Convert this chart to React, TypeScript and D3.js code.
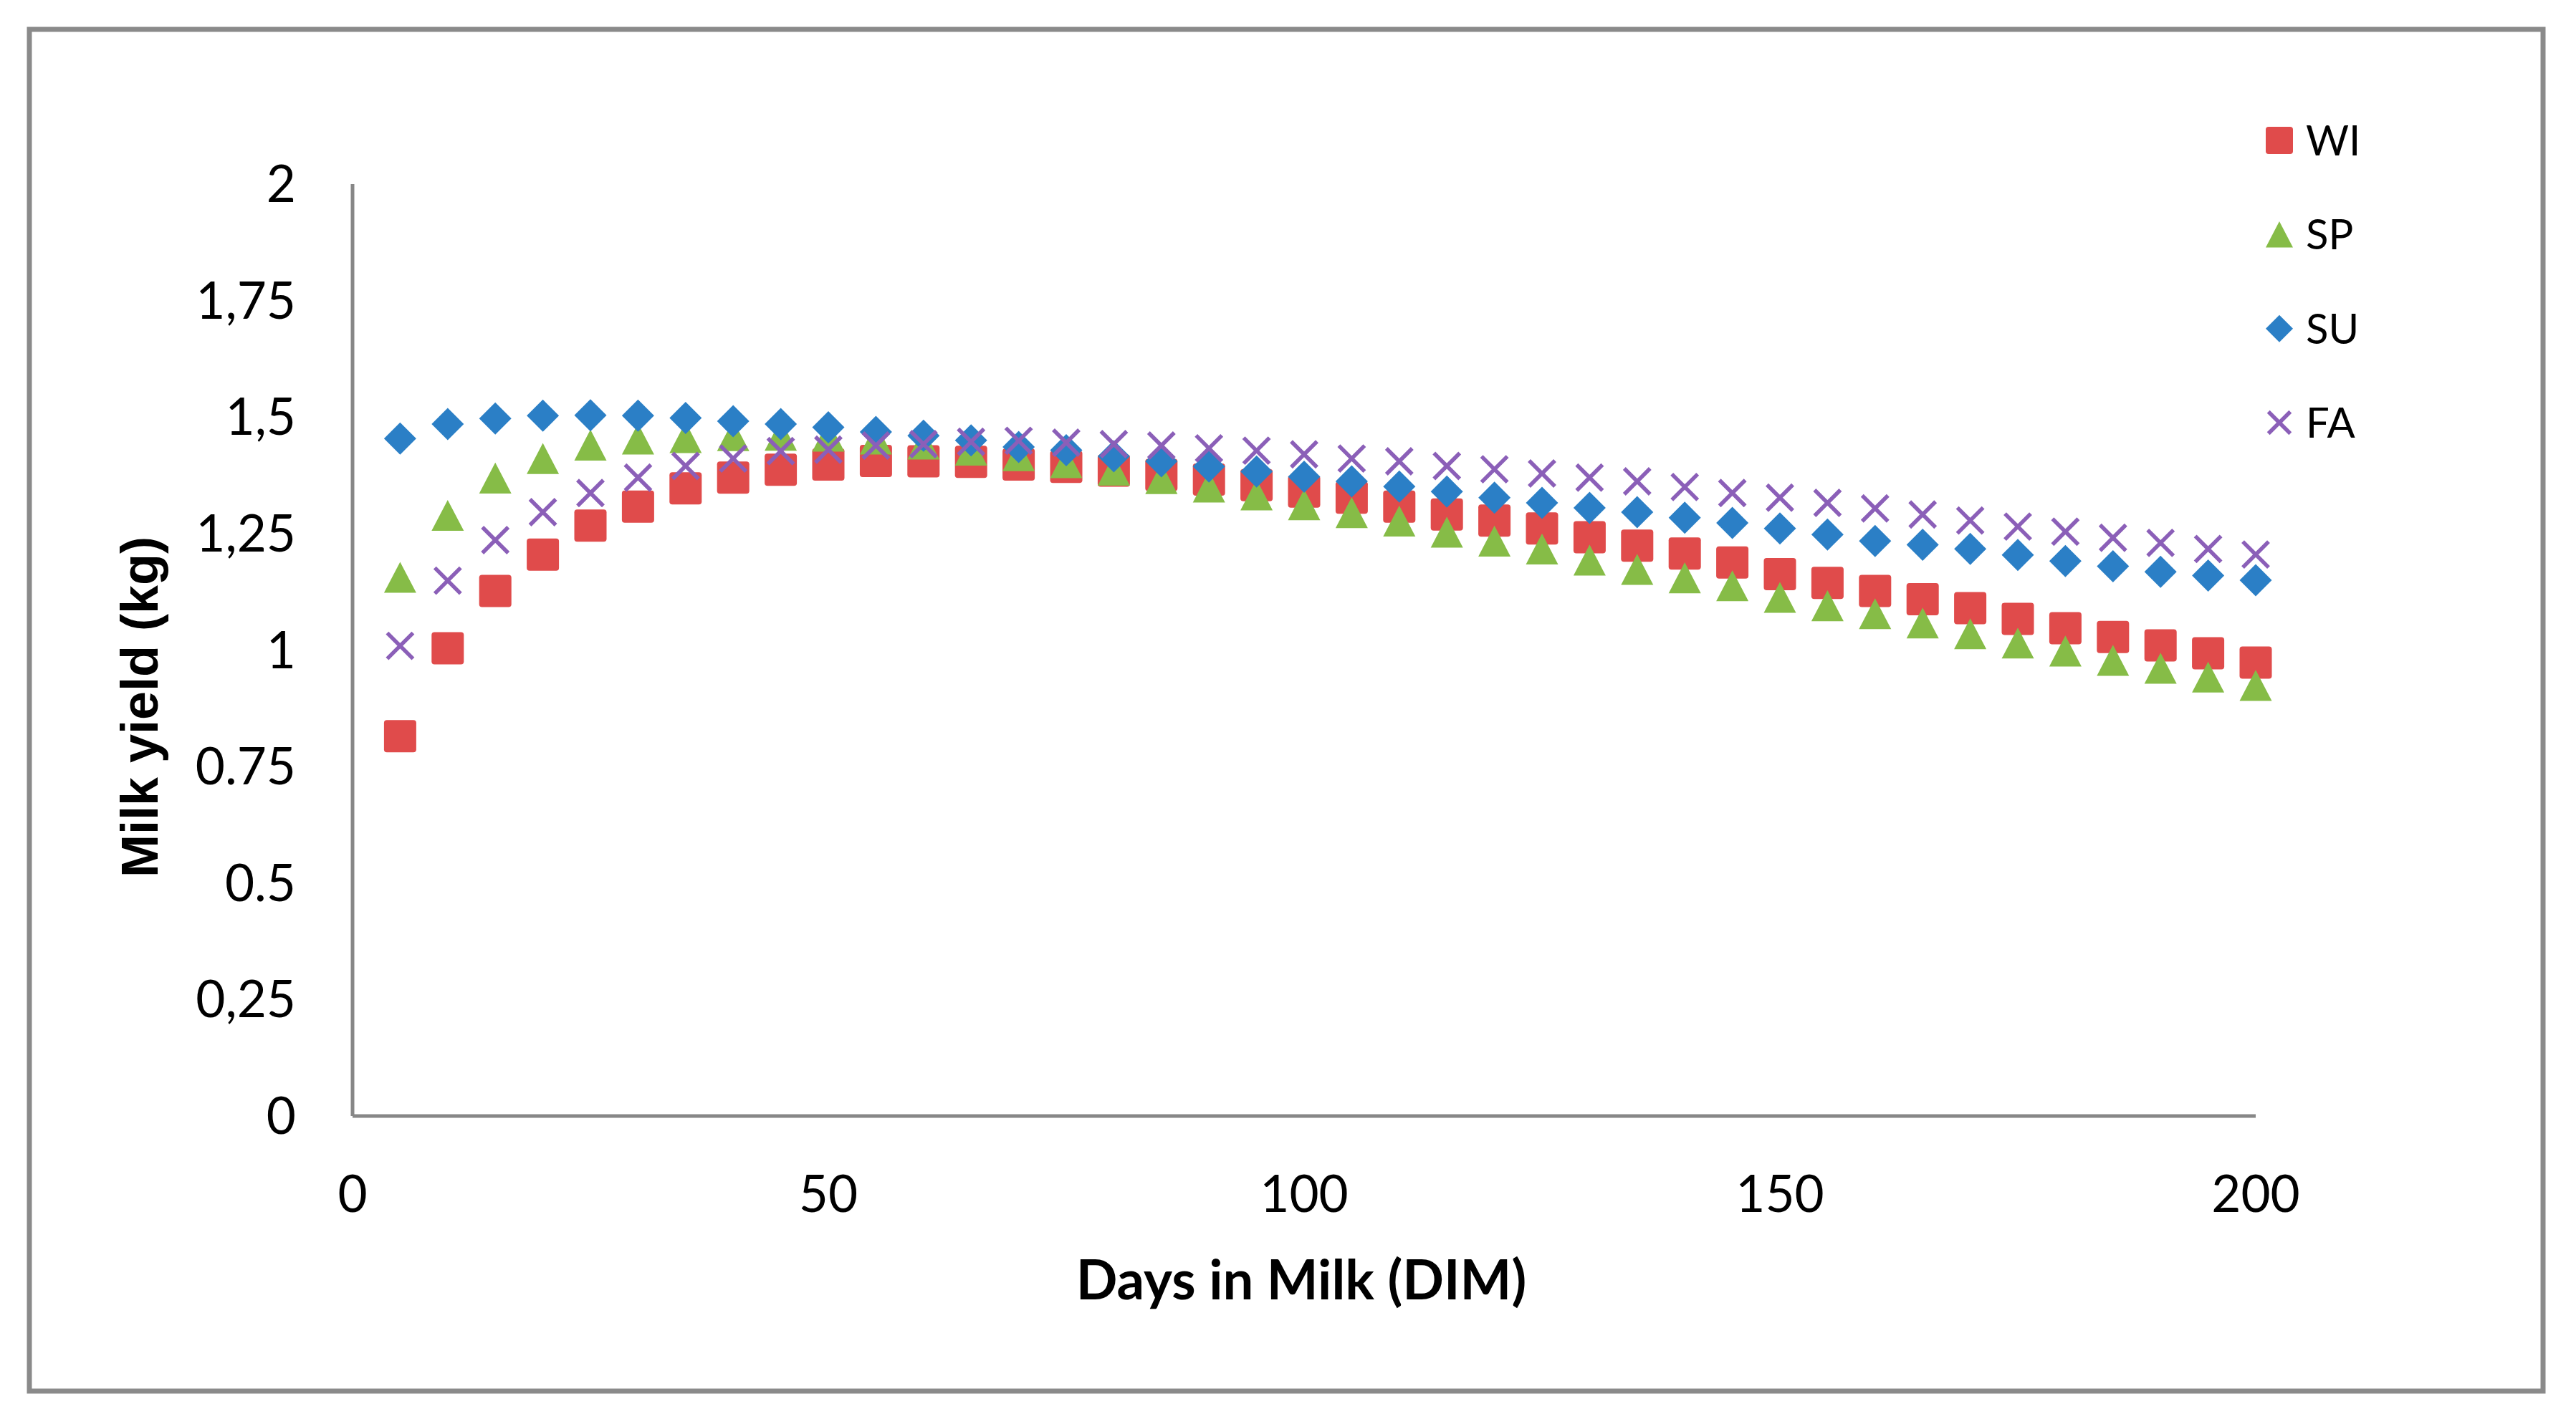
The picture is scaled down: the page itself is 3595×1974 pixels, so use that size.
import { scaleLinear } from "d3";

const days = [
  5, 10, 15, 20, 25, 30, 35, 40, 45, 50, 55, 60, 65, 70, 75, 80, 85, 90, 95, 100,
  105, 110, 115, 120, 125, 130, 135, 140, 145, 150, 155, 160, 165, 170, 175, 180,
  185, 190, 195, 200,
];

// winter
const wi = [
  0.815, 1.004, 1.127, 1.205, 1.267, 1.308, 1.347, 1.37, 1.387, 1.398, 1.406,
  1.405, 1.404, 1.398, 1.393, 1.385, 1.376, 1.366, 1.354, 1.34, 1.327, 1.308,
  1.291, 1.278, 1.261, 1.242, 1.224, 1.207, 1.188, 1.163, 1.144, 1.127, 1.109,
  1.09, 1.067, 1.047, 1.028, 1.01, 0.993, 0.973,
];

// spring
const sp = [
  1.156, 1.289, 1.369, 1.411, 1.44, 1.453, 1.456, 1.46, 1.461, 1.459, 1.453,
  1.442, 1.429, 1.417, 1.402, 1.386, 1.368, 1.35, 1.333, 1.312, 1.295, 1.277,
  1.253, 1.234, 1.217, 1.193, 1.173, 1.155, 1.138, 1.113, 1.095, 1.078, 1.058,
  1.035, 1.015, 0.998, 0.978, 0.961, 0.942, 0.924,
];

// summer
const su = [
  1.454, 1.485, 1.497, 1.503, 1.504, 1.503, 1.498, 1.491, 1.485, 1.478, 1.468,
  1.46, 1.45, 1.436, 1.429, 1.416, 1.405, 1.394, 1.383, 1.372, 1.362, 1.351,
  1.34, 1.327, 1.316, 1.305, 1.296, 1.284, 1.273, 1.261, 1.248, 1.234, 1.226,
  1.217, 1.204, 1.191, 1.18, 1.168, 1.16, 1.15,
];

// fall
const fa = [
  1.009, 1.149, 1.236, 1.296, 1.337, 1.37, 1.395, 1.411, 1.427, 1.43, 1.439,
  1.442, 1.447, 1.449, 1.445, 1.442, 1.439, 1.433, 1.428, 1.42, 1.411, 1.405,
  1.395, 1.388, 1.379, 1.37, 1.362, 1.35, 1.337, 1.327, 1.316, 1.304, 1.291,
  1.278, 1.265, 1.254, 1.241, 1.23, 1.217, 1.205,
];

const yTicks = [0, 0.25, 0.5, 0.75, 1, 1.25, 1.5, 1.75, 2];
const yTickLabels = ["0", "0,25", "0.5", "0.75", "1", "1,25", "1,5", "1,75", "2"];
const xTicks = [0, 50, 100, 150, 200];

const seriesNames = ["WI", "SP", "SU", "FA"];
const seriesColors = ["#e04b4b", "#86bc47", "#2b7fc6", "#8b5fb8"];

const W = 3595;
const H = 1974;

const TICK_FONT = "Lato, Carlito, Calibri, sans-serif";

// marker shapes, centred on 0,0
function marker(kind: string, s: number, color: string) {
  if (kind === "WI") {
    return <rect x={-s / 2} y={-s / 2} width={s} height={s} rx={4} fill={color} />;
  }
  if (kind === "SP") {
    const h = s * 0.96;
    return <path d={`M0,${-h / 2}L${s / 2},${h / 2}L${-s / 2},${h / 2}Z`} fill={color} />;
  }
  if (kind === "SU") {
    const r = s / 2;
    return <path d={`M0,${-r}L${r},0L0,${r}L${-r},0Z`} fill={color} />;
  }
  const r = s * 0.45;
  return (
    <path
      d={`M${-r},${-r}L${r},${r}M${r},${-r}L${-r},${r}`}
      stroke={color}
      strokeWidth={5.5}
      fill="none"
    />
  );
}

export default function App() {
  const x = scaleLinear().domain([0, 200]).range([492, 3148]);
  const y = scaleLinear().domain([0, 2]).range([1558, 257]);
  const legendY = scaleLinear().domain([0, 3]).range([196, 590]);

  const allSeries = [wi, sp, su, fa];

  return (
    <div style={{ position: "absolute", left: 0, top: 0 }}>
      <svg width={W} height={H} viewBox={`0 0 ${W} ${H}`} style={{ display: "block", background: "#fff" }}>
        <rect x={0} y={0} width={W} height={H} fill="#fff" />

        {/* outer frame */}
        <rect x={41} y={41} width={3508} height={1901} fill="none" stroke="#8a8a8a" strokeWidth={7} />

        {/* axes */}
        <line x1={x(0)} x2={x(0)} y1={y(2)} y2={y(0)} stroke="#878787" strokeWidth={5} />
        <line x1={x(0)} x2={x(200)} y1={y(0)} y2={y(0)} stroke="#878787" strokeWidth={5} />

        {/* y tick labels */}
        {yTicks.map((t, i) => (
          <text
            key={t}
            x={413}
            y={y(t) + 25}
            textAnchor="end"
            fontFamily={TICK_FONT}
            fontSize={71}
            fill="#000"
          >
            {yTickLabels[i]}
          </text>
        ))}

        {/* x tick labels */}
        {xTicks.map((t) => (
          <text
            key={t}
            x={x(t)}
            y={1692}
            textAnchor="middle"
            fontFamily={TICK_FONT}
            fontSize={71}
            fill="#000"
          >
            {t}
          </text>
        ))}

        {/* axis titles */}
        <text
          transform={`translate(220, 987) rotate(-90)`}
          textAnchor="middle"
          fontFamily="'Liberation Sans', Arial, sans-serif"
          fontWeight="bold"
          fontSize={72}
          fill="#000"
        >
          Milk yield (kg)
        </text>
        <text
          x={1816}
          y={1814}
          textAnchor="middle"
          fontFamily={TICK_FONT}
          fontWeight="bold"
          fontSize={76}
          fill="#000"
        >
          Days in Milk (DIM)
        </text>

        {/* points: WI first, FA on top */}
        {allSeries.map((vals, si) => (
          <g key={seriesNames[si]}>
            {vals.map((v, i) => (
              <g key={i} transform={`translate(${x(days[i])},${y(v)})`}>
                {marker(seriesNames[si], si === 3 ? 40 : 45, seriesColors[si])}
              </g>
            ))}
          </g>
        ))}

        {/* legend */}
        {seriesNames.map((name, i) => (
          <g key={name} transform={`translate(3181,${legendY(i)})`}>
            {marker(name, name === "FA" ? 34 : 38, seriesColors[i])}
            <text x={37} y={21} fontFamily={TICK_FONT} fontSize={58} fill="#000">
              {name}
            </text>
          </g>
        ))}
      </svg>
    </div>
  );
}
